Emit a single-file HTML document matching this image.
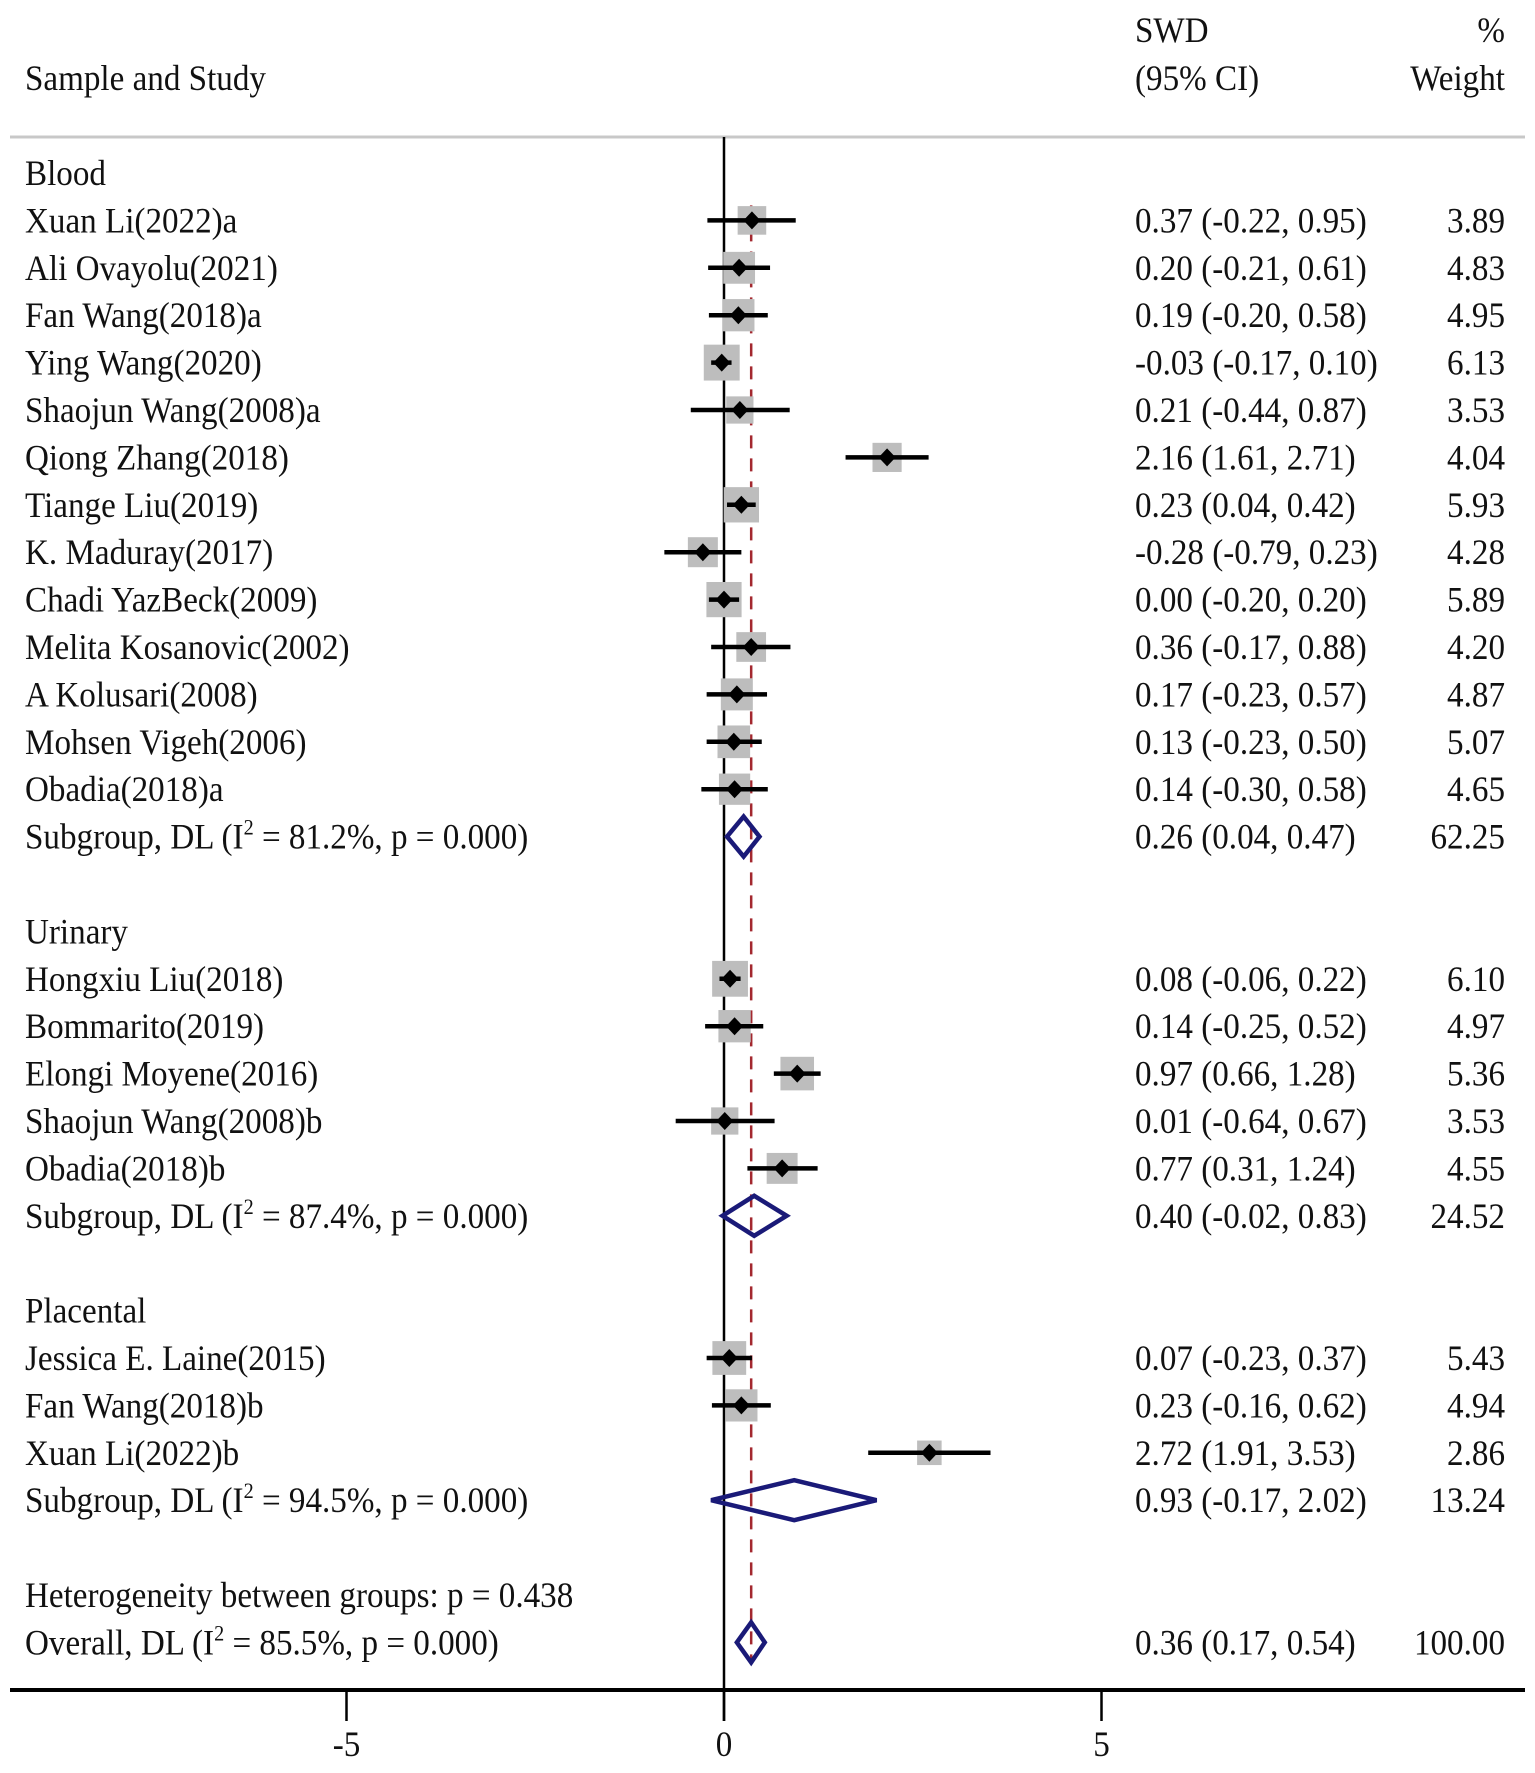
<!DOCTYPE html>
<html><head><meta charset="utf-8"><style>
html,body{margin:0;padding:0;background:#fff;}
svg{display:block;font-family:"Liberation Serif",serif;}
</style></head><body>
<svg id="plot" width="1535" height="1773" viewBox="0 0 1535 1773" xmlns="http://www.w3.org/2000/svg"></svg>
<script>
// Data
const labels = ["Blood","Xuan Li(2022)a","Ali Ovayolu(2021)","Fan Wang(2018)a","Ying Wang(2020)","Shaojun Wang(2008)a","Qiong Zhang(2018)","Tiange Liu(2019)","K. Maduray(2017)","Chadi YazBeck(2009)","Melita Kosanovic(2002)","A Kolusari(2008)","Mohsen Vigeh(2006)","Obadia(2018)a","SUB:81.2","","Urinary","Hongxiu Liu(2018)","Bommarito(2019)","Elongi Moyene(2016)","Shaojun Wang(2008)b","Obadia(2018)b","SUB:87.4","","Placental","Jessica E. Laine(2015)","Fan Wang(2018)b","Xuan Li(2022)b","SUB:94.5","","Heterogeneity between groups: p = 0.438","OVR:85.5"];
const rowType = ["h","s","s","s","s","s","s","s","s","s","s","s","s","s","d","","h","s","s","s","s","s","d","","h","s","s","s","d","","h","d"];
const est = [null,0.37,0.20,0.19,-0.03,0.21,2.16,0.23,-0.28,0.00,0.36,0.17,0.13,0.14,0.26,null,null,0.08,0.14,0.97,0.01,0.77,0.40,null,null,0.07,0.23,2.72,0.93,null,null,0.36];
const lo = [null,-0.22,-0.21,-0.20,-0.17,-0.44,1.61,0.04,-0.79,-0.20,-0.17,-0.23,-0.23,-0.30,0.04,null,null,-0.06,-0.25,0.66,-0.64,0.31,-0.02,null,null,-0.23,-0.16,1.91,-0.17,null,null,0.17];
const hi = [null,0.95,0.61,0.58,0.10,0.87,2.71,0.42,0.23,0.20,0.88,0.57,0.50,0.58,0.47,null,null,0.22,0.52,1.28,0.67,1.24,0.83,null,null,0.37,0.62,3.53,2.02,null,null,0.54];
const weight = [null,3.89,4.83,4.95,6.13,3.53,4.04,5.93,4.28,5.89,4.20,4.87,5.07,4.65,62.25,null,null,6.10,4.97,5.36,3.53,4.55,24.52,null,null,5.43,4.94,2.86,13.24,null,null,100.00];
const xTicks = [-5,0,5];
const overallEst = 0.36;

const svg = document.getElementById('plot');
const NS = 'http://www.w3.org/2000/svg';
const X0 = 724, PXU = 75.5;
function xs(v){ return X0 + v*PXU; }
function ys(i){ return 173 + i*47.4; }
function mk(tag, attrs){ const e=document.createElementNS(NS,tag); for(const k in attrs) e.setAttribute(k,attrs[k]); svg.appendChild(e); return e; }
function txt(s, x, y, anchor, name){
  const t = mk('text',{transform:`translate(${x},${y}) scale(0.92,1)`,'font-size':36,fill:'#111','text-anchor':anchor||'start'});
  t.textContent = s;
  
  
  return t;
}
function fmt(v){ return v.toFixed(2); }

// headers
txt('SWD',1135,42,'start','effect-header');
txt('(95% CI)',1135,90,'start','ci-header');
txt('%',1505,42,'end','weight-header-percent');
txt('Weight',1505,90,'end','weight-header');
txt('Sample and Study',25,90,'start','study-header');
let g = mk('line',{x1:10,y1:137,x2:1525,y2:137,stroke:'#c8c8c8','stroke-width':3});



// zero line
g = mk('line',{x1:xs(0),y1:137,x2:xs(0),y2:1721,stroke:'#000','stroke-width':2.5});


// overall dashed line
g = mk('line',{x1:xs(overallEst),y1:ys(1)-15,x2:xs(overallEst),y2:ys(31)+22,stroke:'#a3282f','stroke-width':2.5,'stroke-dasharray':'13 10'});



for(let i=0;i<labels.length;i++){
  const y = ys(i), t = rowType[i];
  let lab = labels[i];
  if(t==='d'){
    const isO = lab.startsWith('OVR');
    const I = lab.split(':')[1];
    const te = txt('',25,y+12,'start',isO?'overall-label':'subgroup-label');
    te.innerHTML = (isO?'Overall':'Subgroup')+', DL (I<tspan font-size="22" dy="-14">2</tspan><tspan dy="14"> = '+I+'%, p = 0.000)</tspan>';
    const d = mk('polygon',{points:`${xs(lo[i])},${y} ${xs(est[i])},${y-20} ${xs(hi[i])},${y} ${xs(est[i])},${y+20}`,fill:'none',stroke:'#1a1a78','stroke-width':4.5,'stroke-linejoin':'miter'});
    
    
  } else if(lab){
    txt(lab,25,y+12,'start',t==='h'?'group-label':'study-label');
  }
  if(t==='s'){
    const s = 14.5*Math.sqrt(weight[i]);
    const sq = mk('rect',{x:xs(est[i])-s/2,y:y-s/2,width:s,height:s,fill:'#bdbdbd'});
    
    
    const l = mk('line',{x1:xs(lo[i]),y1:y,x2:xs(hi[i]),y2:y,stroke:'#000','stroke-width':4.5});
    
    
    const p = mk('polygon',{points:`${xs(est[i])-8.5},${y} ${xs(est[i])},${y-9} ${xs(est[i])+8.5},${y} ${xs(est[i])},${y+9}`,fill:'#000'});
    
    
  }
  if(est[i]!==null){
    txt(`${fmt(est[i])} (${fmt(lo[i])}, ${fmt(hi[i])})`,1135,y+12,'start','effect-ci-text');
    txt(fmt(weight[i]),1505,y+12,'end','weight-text');
  }
}

// x axis
g = mk('line',{x1:10,y1:1690,x2:1525,y2:1690,stroke:'#000','stroke-width':4});


for(const v of xTicks){
  const tk = mk('line',{x1:xs(v),y1:1690,x2:xs(v),y2:1721,stroke:'#000','stroke-width':2.5});
  
  
  txt(String(v),xs(v),1756,'middle','x-tick-label');
}
</script>
</body></html>
